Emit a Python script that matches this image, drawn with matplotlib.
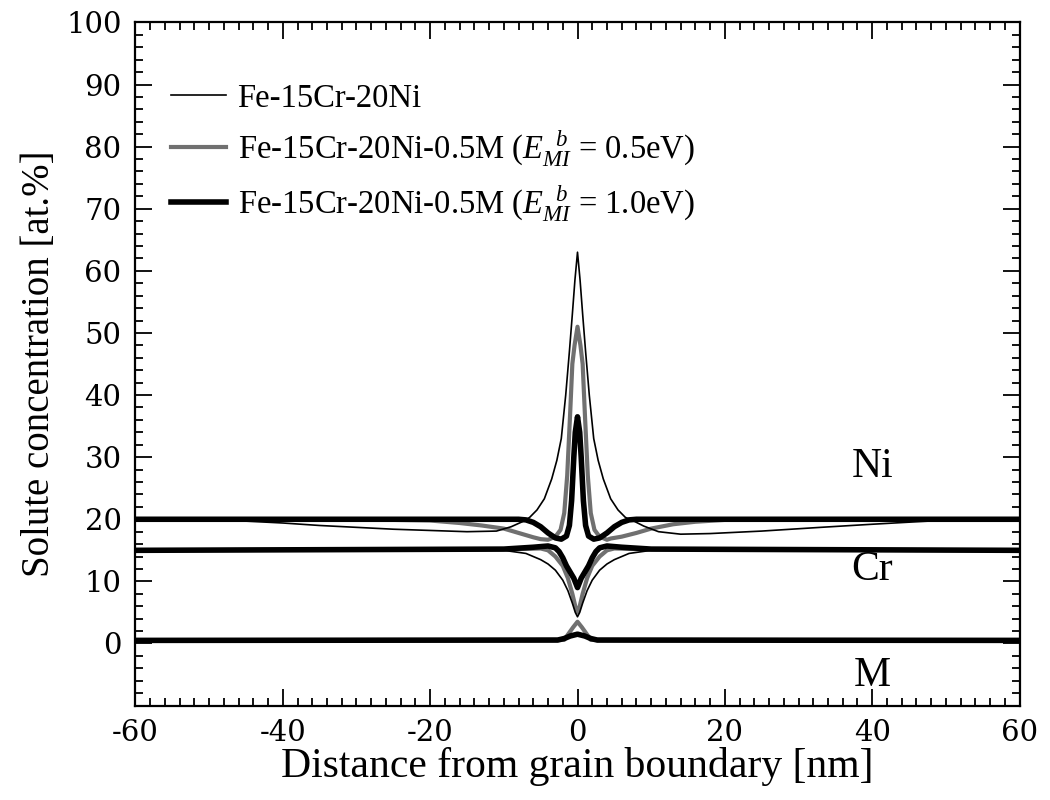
import matplotlib
matplotlib.use("Agg")
import matplotlib.pyplot as plt
from matplotlib.ticker import MultipleLocator
from matplotlib.lines import Line2D

plt.rcParams['font.family'] = ['Liberation Serif', 'DejaVu Serif']
plt.rcParams['mathtext.fontset'] = 'custom'
plt.rcParams['mathtext.rm'] = 'Liberation Serif'
plt.rcParams['mathtext.it'] = 'Liberation Serif:italic'
plt.rcParams['axes.unicode_minus'] = False

# ---------------- data ----------------
# Fe-15Cr-20Ni (thin line)
ni_base_x = [-60, -50, -45, -40, -35, -30, -25, -20, -15, -11, -9, -7.5, -6.5, -5.5, -4.5, -3.5, -2.8, -2.2,
             -1.6, -1.1, -0.7, -0.35, 0, 0.35, 0.7, 1.1, 1.6, 2.2, 2.8, 3.5, 4.5, 5.5, 6.5, 7.5, 9, 11, 14,
             18, 25, 33, 40, 46, 50, 55, 60]
ni_base_y = [20.0, 19.9, 19.7, 19.4, 19.0, 18.7, 18.4, 18.2, 18.0, 18.1, 18.8, 19.6, 20.3, 21.5, 23.3, 26.5,
             29.5, 33.0, 40.0, 47.0, 53.0, 58.5, 63.0, 58.5, 53.0, 47.0, 40.0, 33.0, 29.5, 26.5, 23.3, 21.5,
             20.3, 19.8, 18.9, 18.0, 17.6, 17.7, 18.1, 18.7, 19.2, 19.6, 19.85, 20.0, 20.0]
cr_base_x = [-60, -10, -7, -5, -4, -3, -2, -1.3, -0.7, -0.3, 0, 0.3, 0.7, 1.3, 2, 3, 4, 5, 7, 10, 60]
cr_base_y = [15.0, 15.0, 14.5, 13.5, 12.8, 11.8, 10.2, 8.5, 6.5, 5.0, 4.3, 5.0, 6.5, 8.5, 10.2, 11.8, 12.8,
             13.5, 14.5, 15.0, 15.0]

# Fe-15Cr-20Ni-0.5M, E_MI^b = 0.5 eV (grey line)
ni_05_x = [-60, -30, -20, -16, -13, -10, -8, -6, -5, -4, -3, -2.3, -1.8, -1.4, -1.0, -0.7, -0.4, 0,
           0.4, 0.7, 1.0, 1.4, 1.8, 2.3, 3, 4, 4.5, 6, 8, 10, 13, 16, 20, 30, 60]
ni_05_y = [20.0, 20.0, 19.8, 19.4, 19.0, 18.5, 17.8, 17.1, 16.8, 16.7, 17.2, 18.3, 21.0, 27.0, 37.0, 45.0,
           48.0, 51.0, 48.0, 45.0, 37.0, 27.0, 21.0, 18.3, 17.2, 16.7, 16.9, 17.2, 17.8, 18.5, 19.2, 19.6,
           19.9, 20.0, 20.0]
cr_05_x = [-60, -8, -5, -4, -3, -2, -1.3, -0.7, -0.3, 0, 0.3, 0.7, 1.3, 2, 3, 4, 5, 8, 60]
cr_05_y = [15.0, 15.2, 15.3, 15.0, 14.0, 12.5, 10.5, 8.0, 6.0, 5.0, 6.0, 8.0, 10.5, 12.5, 14.0, 15.0, 15.3,
           15.2, 15.0]
m_05_x = [-60, -1.8, -1.2, -0.6, 0, 0.6, 1.2, 1.8, 60]
m_05_y = [0.5, 0.6, 1.6, 2.6, 3.5, 2.6, 1.6, 0.6, 0.5]

# Fe-15Cr-20Ni-0.5M, E_MI^b = 1.0 eV (thick line)
ni_10_x = [-60, -8, -7, -6, -5, -4, -3, -2.2, -1.5, -1.1, -0.8, -0.5, -0.3, 0, 0.3, 0.5, 0.8, 1.1, 1.5,
           2.2, 3, 4, 5, 6, 7, 8, 60]
ni_10_y = [20.0, 20.0, 19.9, 19.5, 18.8, 17.8, 17.0, 16.8, 17.3, 19.0, 23.0, 30.0, 34.0, 36.5, 34.0, 30.0,
           23.0, 19.0, 17.3, 16.8, 17.0, 17.8, 18.8, 19.5, 19.9, 20.0, 20.0]
cr_10_x = [-60, -10, -6, -4, -3, -2.5, -2, -1.5, -1, -0.5, 0, 0.5, 1, 1.5, 2, 2.5, 3, 4, 6, 10, 60]
cr_10_y = [15.0, 15.2, 15.5, 15.7, 15.4, 14.8, 13.8, 12.5, 11.5, 10.5, 9.0, 10.5, 11.5, 12.5, 13.8, 14.8,
           15.4, 15.7, 15.5, 15.2, 15.0]
m_10_x = [-60, -2.7, -1.8, -1, 0, 1, 1.8, 2.7, 60]
m_10_y = [0.5, 0.55, 0.8, 1.2, 1.5, 1.2, 0.8, 0.55, 0.5]

legend_labels = ['Fe-15Cr-20Ni',
                 r'Fe-15Cr-20Ni-0.5M ($E_{MI}^{\ \ b}$ = 0.5eV)',
                 r'Fe-15Cr-20Ni-0.5M ($E_{MI}^{\ \ b}$ = 1.0eV)']
x_ticks = [-60, -40, -20, 0, 20, 40, 60]
y_ticks = [0, 10, 20, 30, 40, 50, 60, 70, 80, 90, 100]

# ---------------- plot ----------------
fig = plt.figure(figsize=(10.5, 8), dpi=100)
ax = fig.add_axes([0.129, 0.118, 0.842, 0.854])

thin = dict(color='black', lw=1.2)
grey = dict(color='#707070', lw=3.0)
thick = dict(color='black', lw=4.0)

ax.plot(ni_05_x, ni_05_y, **grey)
ax.plot(cr_05_x, cr_05_y, **grey)
ax.plot(m_05_x, m_05_y, **grey)
ax.plot(ni_10_x, ni_10_y, **thick)
ax.plot(cr_10_x, cr_10_y, **thick)
ax.plot(m_10_x, m_10_y, **thick)
ax.plot(ni_base_x, ni_base_y, **thin)
ax.plot(cr_base_x, cr_base_y, **thin)

ax.set_xlim(-60, 60)
ax.set_ylim(-10, 100)
ax.set_xticks(x_ticks)
ax.set_yticks(y_ticks)
ax.xaxis.set_minor_locator(MultipleLocator(2))
ax.yaxis.set_minor_locator(MultipleLocator(2))
ax.tick_params(which='both', direction='in', top=True, right=True, width=1.3)
ax.tick_params(which='major', length=12)
ax.tick_params(which='minor', length=6)
ax.tick_params(axis='x', which='major', pad=10)
ax.tick_params(axis='y', which='major', pad=10)
for lab in ax.get_xticklabels() + ax.get_yticklabels():
    lab.set_fontfamily('DejaVu Serif')
    lab.set_fontsize(21)
for s in ax.spines.values():
    s.set_linewidth(1.6)

ax.set_xlabel('Distance from grain boundary [nm]', fontsize=30, labelpad=0)
ax.set_ylabel('Solute concentration [at.%]', fontsize=28, labelpad=6)

ax.text(40, 28.5, 'Ni', fontsize=30, ha='center', va='center')
ax.text(40, 11.8, 'Cr', fontsize=30, ha='center', va='center')
ax.text(40, -5.2, 'M', fontsize=30, ha='center', va='center')

handles = [Line2D([], [], **thin), Line2D([], [], **grey), Line2D([], [], **thick)]
ax.legend(handles, legend_labels, loc='upper left', bbox_to_anchor=(0.025, 0.93), frameon=False,
          fontsize=23.5, handlelength=1.7, handletextpad=0.35, labelspacing=0.45, borderaxespad=0)

fig.savefig('out.png', dpi=100)
